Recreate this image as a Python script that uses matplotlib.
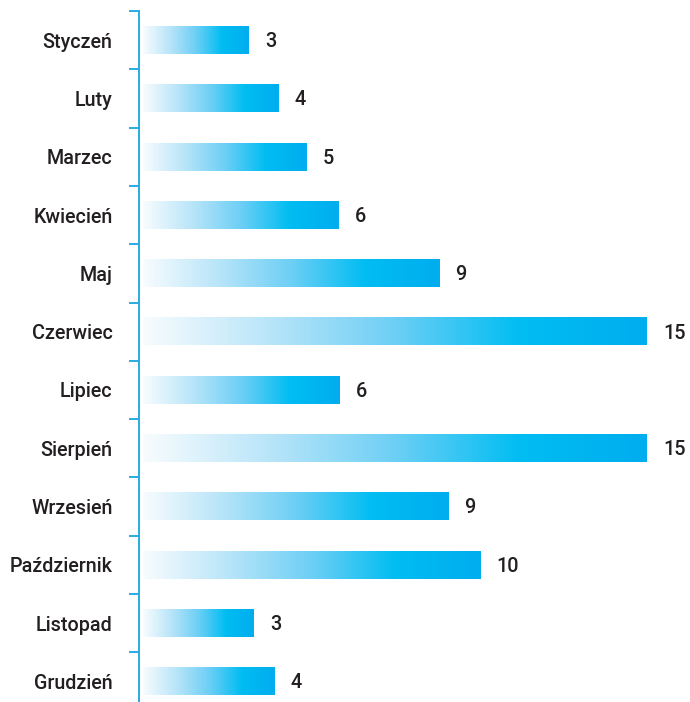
import numpy as np
import matplotlib
matplotlib.use("Agg")
import matplotlib.pyplot as plt
from matplotlib.colors import LinearSegmentedColormap

# *********************************************
# Data
# *********************************************
months = ["Styczeń", "Luty", "Marzec", "Kwiecień", "Maj", "Czerwiec",
          "Lipiec", "Sierpień", "Wrzesień", "Październik", "Listopad", "Grudzień"]
values = [3.15, 4.02, 4.88, 5.83, 8.81, 15.0, 5.86, 15.0, 9.08, 10.03, 3.30, 3.90]
labels = ["3", "4", "5", "6", "9", "15", "6", "15", "9", "10", "3", "4"]

AXIS_BLUE = "#29abe2"
TEXT = "#231f20"
cmap = LinearSegmentedColormap.from_list(
    "bar", [(0.0, "#f8fcfe"), (0.25, "#b9e5f9"), (0.5, "#6dcff5"),
            (0.75, "#00bdf2"), (1.0, "#00adef")])

plt.rcParams["font.family"] = ["Roboto", "DejaVu Sans"]

fig = plt.figure(figsize=(6.9, 7.02), dpi=100)
ax = fig.add_axes([139 / 690, -8.6 / 702, 551 / 690, 699.6 / 702])

n = len(months)
bar_h = 0.475
grad = np.linspace(0, 1, 256).reshape(1, -1)
for i, (v, lab) in enumerate(zip(values, labels)):
    y = n - 1 - i
    # każdy pasek ma własny gradient od białego do niebieskiego
    ax.imshow(grad, cmap=cmap, aspect="auto", interpolation="bilinear",
              extent=[0, v, y - bar_h / 2, y + bar_h / 2], zorder=2)
    ax.annotate(lab, (v, y), xytext=(11.5, -1), textcoords="offset points",
                ha="left", va="center", fontsize=14.3, fontweight="medium", color=TEXT)

ax.set_xlim(-0.119, 16.28)
ax.set_ylim(-0.5, n - 0.5)

# category labels centred, ticks on the boundaries
ax.set_yticks(np.arange(n))
ax.set_yticklabels(months[::-1], fontsize=14.2, fontweight="medium", color=TEXT)
ax.tick_params(axis="y", which="major", length=0, pad=19)
ax.set_yticks(np.arange(n + 1) - 0.5, minor=True)
ax.tick_params(axis="y", which="minor", length=7.2, width=1.4, color=AXIS_BLUE)
ax.set_xticks([])

for side in ["top", "right", "bottom"]:
    ax.spines[side].set_visible(False)
ax.spines["left"].set_color(AXIS_BLUE)
ax.spines["left"].set_linewidth(1.4)

plt.savefig("out.png", dpi=100)
